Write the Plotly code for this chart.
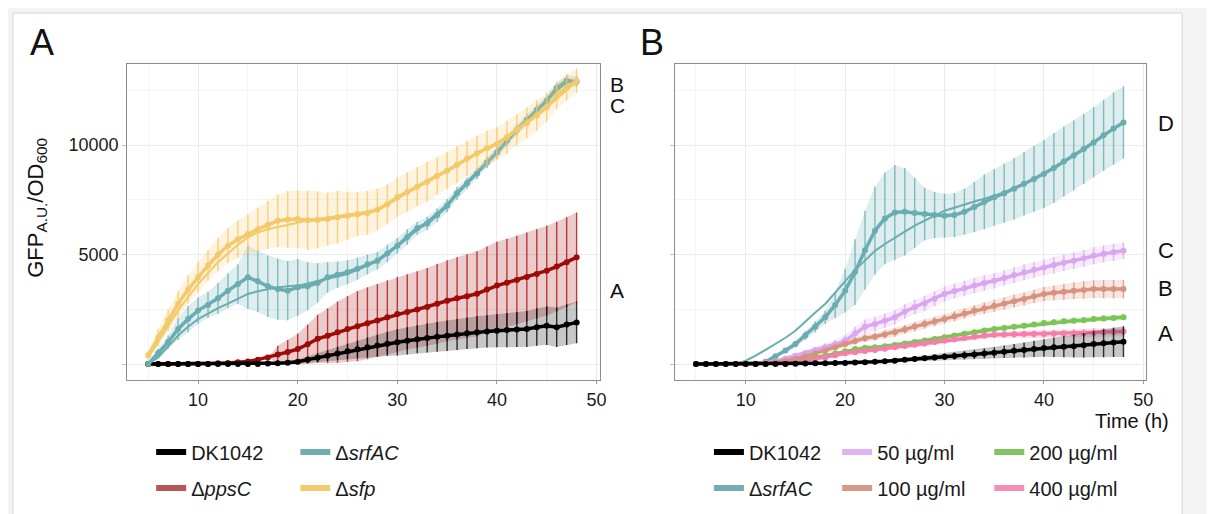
import plotly.graph_objects as go

# time points (h), read at 1 h steps
T = list(range(5, 49))

# ---- panel A: mutants ----
dk_a = [0, 0, 0, 0, 0, 0, 0, 0, 0, 0,
        0, 0, 20, 40, 60, 100, 200, 290, 380, 480,
        580, 670, 760, 840, 920, 990, 1060, 1130, 1190, 1240,
        1290, 1350, 1400, 1450, 1490, 1520, 1550, 1580, 1600, 1680,
        1750, 1680, 1800, 1900]
dk_a_err = [0, 0, 0, 0, 0, 0, 0, 0, 0, 0,
            0, 0, 0, 30, 60, 100, 150, 200, 250, 300,
            350, 400, 450, 500, 550, 600, 620, 640, 660, 680,
            700, 710, 720, 730, 740, 760, 780, 800, 820, 850,
            880, 900, 930, 950]

pps_a = [0, 0, 0, 0, 0, 0, 0, 30, 50, 80,
         120, 200, 300, 430, 550, 680, 900, 1150, 1290, 1450,
         1600, 1730, 1860, 1990, 2140, 2280, 2380, 2490, 2600, 2750,
         2890, 3000, 3100, 3210, 3400, 3580, 3710, 3840, 3970, 4110,
         4260, 4450, 4650, 4870]
pps_a_err = [0, 0, 0, 0, 0, 0, 0, 0, 0, 0,
             0, 0, 0, 400, 550, 700, 900, 1100, 1250, 1400,
             1500, 1600, 1640, 1660, 1680, 1700, 1720, 1750, 1780, 1820,
             1850, 1880, 1910, 1940, 1970, 2000, 2010, 2020, 2030, 2040,
             2050, 2050, 2050, 2050]

srf_a = [0, 500, 1000, 1600, 2050, 2440, 2700, 3000, 3350, 3650,
         3960, 3780, 3550, 3420, 3350, 3500, 3550, 3700, 3960, 4080,
         4190, 4350, 4550, 4720, 5050, 5400, 5800, 6200, 6420, 6800,
         7230, 7800, 8250, 8700, 9200, 9660, 10200, 10700, 11150, 11600,
         12020, 12600, 12940, 12900]
srf_a_err = [100, 200, 300, 500, 600, 600, 600, 700, 800, 900,
             1450, 1400, 1400, 1400, 1350, 1300, 1100, 900, 700, 600,
             550, 500, 450, 400, 400, 350, 350, 300, 300, 300,
             300, 300, 250, 250, 250, 250, 250, 250, 250, 250,
             250, 250, 250, 250]
srf_a_fit = [0, 300, 800, 1300, 1700, 2050, 2300, 2550, 2760, 2980,
             3200, 3320, 3420, 3500, 3550, 3580, 3680, 3780, 3880, 4000,
             4110, 4300, 4500, 4750, 5050, 5380, 5750, 6120, 6500, 6880,
             7280, 7750, 8220, 8700, 9180, 9660, 10150, 10650, 11120, 11580,
             12020, 12480, 12850, 12950]

sfp_a = [400, 1200, 2000, 2750, 3400, 3960, 4500, 5000, 5400, 5700,
         5940, 6150, 6350, 6540, 6600, 6620, 6560, 6580, 6620, 6700,
         6770, 6840, 6900, 7050, 7300, 7610, 7850, 8100, 8320, 8580,
         8830, 9100, 9380, 9620, 9850, 10050, 10350, 10700, 11000, 11350,
         11720, 12250, 12630, 12940]
sfp_a_err = [200, 400, 500, 600, 650, 700, 700, 750, 800, 850,
             900, 1000, 1100, 1200, 1300, 1300, 1350, 1300, 1200, 1200,
             1100, 1000, 1000, 950, 900, 900, 900, 900, 900, 850,
             850, 850, 800, 800, 800, 750, 750, 700, 700, 700,
             650, 600, 600, 550]
sfp_a_fit = [300, 1000, 1750, 2450, 3050, 3650, 4150, 4650, 5050, 5450,
             5780, 6000, 6150, 6250, 6380, 6470, 6550, 6620, 6680, 6740,
             6800, 6870, 6950, 7080, 7290, 7550, 7820, 8080, 8330, 8580,
             8830, 9090, 9350, 9600, 9850, 10100, 10400, 10700, 11020, 11350,
             11700, 12100, 12500, 12900]

# ---- panel B: srfAC + surfactin ----
dk_b = [0, 0, 0, 0, 0, 0, 0, 0, 0, 0,
        10, 20, 30, 40, 45, 50, 65, 85, 100, 125,
        150, 190, 230, 265, 300, 330, 365, 400, 435, 480,
        520, 560, 600, 640, 690, 730, 760, 790, 815, 860,
        910, 950, 985, 1020]
dk_b_err = [0, 0, 0, 0, 0, 0, 0, 0, 0, 0,
            0, 0, 0, 0, 0, 30, 40, 50, 60, 70,
            80, 90, 110, 130, 140, 150, 170, 190, 210, 230,
            250, 280, 310, 340, 370, 400, 440, 480, 520, 560,
            600, 640, 670, 700]

srf_b = [0, 0, 0, 0, 0, 0, 0, 100, 350, 620,
         910, 1300, 1700, 2130, 2700, 3350, 4200, 5200, 6090, 6650,
         6920, 6950, 6900, 6850, 6800, 6770, 6800, 6950, 7170, 7400,
         7610, 7800, 8000, 8230, 8450, 8680, 8950, 9250, 9520, 9820,
         10120, 10450, 10750, 11030]
srf_b_err = [0, 0, 0, 0, 0, 0, 0, 50, 80, 100,
             150, 200, 250, 300, 600, 1000, 1500, 1800, 2000, 2100,
             2170, 2000, 1600, 1200, 1050, 1000, 1000, 1050, 1150, 1250,
             1300, 1350, 1400, 1450, 1500, 1550, 1600, 1600, 1600, 1600,
             1600, 1620, 1650, 1650]
srf_b_fit = [0, 0, 0, 0, 0, 150, 380, 650, 910, 1200,
             1520, 1950, 2350, 2740, 3250, 3800, 4300, 4720, 5170, 5480,
             5780, 6050, 6320, 6560, 6780, 7000, 7150, 7300, 7420, 7550,
             7680, 7830, 8020, 8230, 8450, 8680, 8950, 9240, 9520, 9820,
             10120, 10450, 10750, 11030]

c50 = [0, 0, 0, 0, 0, 0, 20, 60, 130, 250,
       380, 500, 630, 760, 900, 1070, 1400, 1700, 1830, 1980,
       2130, 2400, 2600, 2760, 2980, 3200, 3330, 3460, 3580, 3700,
       3800, 3930, 4060, 4190, 4300, 4410, 4520, 4620, 4720, 4830,
       4950, 5030, 5100, 5170]
c50_err = [0, 0, 0, 0, 0, 0, 30, 50, 80, 100,
           120, 140, 160, 180, 200, 250, 300, 330, 330, 330,
           330, 330, 330, 340, 340, 340, 340, 350, 350, 350,
           350, 350, 360, 360, 360, 360, 370, 370, 370, 380,
           380, 380, 380, 380]

c100 = [0, 0, 0, 0, 0, 0, 0, 30, 80, 150,
        230, 350, 480, 610, 760, 910, 1050, 1180, 1250, 1350,
        1450, 1580, 1710, 1830, 1940, 2050, 2180, 2310, 2440, 2550,
        2660, 2760, 2870, 2970, 3090, 3200, 3250, 3300, 3350, 3380,
        3420, 3420, 3420, 3420]
c100_err = [0, 0, 0, 0, 0, 0, 0, 30, 40, 50,
            60, 80, 100, 120, 140, 150, 160, 170, 180, 190,
            200, 200, 210, 210, 220, 220, 230, 240, 250, 260,
            270, 280, 290, 300, 300, 320, 340, 360, 380, 400,
            400, 420, 420, 420]

c200 = [0, 0, 0, 0, 0, 0, 0, 0, 40, 90,
        150, 230, 300, 380, 480, 580, 680, 740, 760, 810,
        870, 940, 1010, 1070, 1140, 1220, 1300, 1380, 1450, 1530,
        1600, 1650, 1700, 1750, 1810, 1870, 1910, 1950, 1980, 2000,
        2050, 2080, 2100, 2130]
c200_err = [0, 0, 0, 0, 0, 0, 0, 0, 20, 30,
            40, 50, 60, 60, 70, 70, 80, 80, 80, 90,
            90, 90, 100, 100, 100, 100, 110, 110, 110, 110,
            120, 120, 120, 120, 120, 130, 130, 130, 130, 130,
            130, 130, 130, 130]

c400 = [0, 0, 0, 0, 0, 0, 0, 0, 40, 80,
        120, 180, 240, 300, 400, 490, 540, 590, 640, 700,
        760, 820, 880, 940, 1010, 1070, 1130, 1190, 1250, 1300,
        1340, 1350, 1360, 1370, 1370, 1370, 1380, 1390, 1400, 1410,
        1430, 1450, 1460, 1480]
c400_err = [0, 0, 0, 0, 0, 0, 0, 0, 20, 30,
            40, 50, 60, 70, 80, 90, 100, 100, 110, 110,
            120, 120, 120, 130, 130, 130, 140, 140, 140, 150,
            150, 150, 160, 160, 170, 170, 180, 180, 190, 190,
            200, 200, 200, 200]

# the page body adds an 8 px margin, so the figure is drawn 8 px smaller
OFF = 8
W, H = 1215 - OFF, 514 - OFF
FONT = "Arial, Liberation Sans, sans-serif"

def px(x):
    return (x - OFF) / W

def py(y):
    return 1 - (y - OFF) / H

def band(fig, y, err, rgb, xa, ya, alpha=0.22):
    # light shade between mean-sd and mean+sd, mimics the dense error bars
    hi = [v + e for v, e in zip(y, err)]
    lo = [v - e for v, e in zip(y, err)]
    fig.add_trace(go.Scatter(x=T, y=hi, mode="lines", line=dict(width=0),
                             xaxis=xa, yaxis=ya, showlegend=False, hoverinfo="skip"))
    fig.add_trace(go.Scatter(x=T, y=lo, mode="lines", line=dict(width=0),
                             fill="tonexty", fillcolor="rgba(%s,%s)" % (rgb, alpha),
                             xaxis=xa, yaxis=ya, showlegend=False, hoverinfo="skip"))

def series(fig, y, err, color, rgb, xa, ya, lw=3.5, ms=6):
    band(fig, y, err, rgb, xa, ya)
    fig.add_trace(go.Scatter(x=T, y=y, mode="lines+markers", xaxis=xa, yaxis=ya,
                             line=dict(color=color, width=lw),
                             marker=dict(color=color, size=ms),
                             error_y=dict(type="data", array=err, visible=True,
                                          thickness=1.4, width=0,
                                          color="rgba(%s,0.8)" % rgb),
                             showlegend=False, hoverinfo="skip"))

def fit(fig, y, color, xa, ya):
    fig.add_trace(go.Scatter(x=T, y=y, mode="lines", xaxis=xa, yaxis=ya,
                             line=dict(color=color, width=2),
                             showlegend=False, hoverinfo="skip"))

fig = go.Figure()

# panel A
series(fig, pps_a, pps_a_err, "#9c0a0a", "170,20,20", "x", "y")
series(fig, dk_a, dk_a_err, "#000000", "0,0,0", "x", "y")
series(fig, srf_a, srf_a_err, "#6aadb1", "106,173,177", "x", "y")
fit(fig, srf_a_fit, "#6aadb1", "x", "y")
series(fig, sfp_a, sfp_a_err, "#f4c96a", "244,201,106", "x", "y")
fit(fig, sfp_a_fit, "#f4c96a", "x", "y")

# panel B
series(fig, srf_b, srf_b_err, "#6aadb1", "106,173,177", "x2", "y2")
fit(fig, srf_b_fit, "#6aadb1", "x2", "y2")
series(fig, c50, c50_err, "#d9a6f0", "217,166,240", "x2", "y2")
series(fig, c100, c100_err, "#d8927e", "216,146,126", "x2", "y2")
series(fig, c200, c200_err, "#7dc456", "125,196,86", "x2", "y2")
series(fig, c400, c400_err, "#f57eaa", "245,126,170", "x2", "y2")
series(fig, dk_b, dk_b_err, "#000000", "0,0,0", "x2", "y2")

# legends: one small legend per entry, placed like the original grid
legend_items = [
    ("DK1042", "#000000", 157, 452),
    ("Δ<i>srfAC</i>", "#72aeb1", 302, 452),
    ("Δ<i>ppsC</i>", "#b85656", 157, 488),
    ("Δ<i>sfp</i>", "#f3ca70", 302, 488),
    ("DK1042", "#000000", 718, 452),
    ("50 µg/ml", "#ddb3f2", 847, 452),
    ("200 µg/ml", "#82c35e", 1000, 452),
    ("Δ<i>srfAC</i>", "#75aeb1", 718, 488),
    ("100 µg/ml", "#d59a87", 847, 488),
    ("400 µg/ml", "#f68db4", 1000, 488),
]
legends = {}
for i, (name, color, lx, ly) in enumerate(legend_items):
    key = "legend" if i == 0 else "legend%d" % (i + 1)
    fig.add_trace(go.Scatter(x=[None], y=[None], mode="lines", name=name,
                             line=dict(color=color, width=6),
                             legend=key, showlegend=True, xaxis="x", yaxis="y"))
    legends[key] = dict(x=px(lx - 5), y=py(ly), xanchor="left", yanchor="middle",
                        bgcolor="rgba(0,0,0,0)", borderwidth=0,
                        font=dict(family=FONT, size=20, color="#1a1a1a"),
                        itemwidth=30)

axis_common = dict(range=[2.9, 50.3], tickvals=[10, 20, 30, 40, 50],
                   showgrid=True, gridcolor="#ebebeb", gridwidth=1,
                   minor=dict(tickvals=[5, 15, 25, 35, 45], showgrid=True,
                              gridcolor="#f4f4f4", gridwidth=1),
                   showline=True, linecolor="#8c8c8c", linewidth=1.3, mirror=True,
                   ticks="outside", ticklen=3, tickcolor="#9a9a9a",
                   tickfont=dict(family=FONT, size=18, color="#1a1a1a"),
                   zeroline=False)
yaxis_common = dict(range=[-730, 13700], tickvals=[0, 5000, 10000],
                    ticktext=["", "5000", "10000"],
                    showgrid=True, gridcolor="#ebebeb", gridwidth=1,
                    minor=dict(tickvals=[2500, 7500, 12500], showgrid=True,
                               gridcolor="#f4f4f4", gridwidth=1),
                    showline=True, linecolor="#8c8c8c", linewidth=1.3, mirror=True,
                    ticks="outside", ticklen=4, tickcolor="#a9c4dc",
                    tickfont=dict(family=FONT, size=18, color="#1a1a1a"),
                    zeroline=False)

fig.update_layout(
    width=W, height=H,
    margin=dict(l=0, r=0, t=0, b=0),
    paper_bgcolor="#f4f4f4", plot_bgcolor="white",
    xaxis=dict(domain=[px(128), px(603)], anchor="y", **axis_common),
    yaxis=dict(domain=[py(380), py(64)], anchor="x", **yaxis_common),
    xaxis2=dict(domain=[px(679), px(1153)], anchor="y2", **axis_common),
    yaxis2=dict(domain=[py(380), py(64)], anchor="x2", showticklabels=False,
                **yaxis_common),
    shapes=[dict(type="rect", xref="paper", yref="paper", layer="below",
                 x0=px(13), x1=px(1189), y0=py(520), y1=py(13),
                 fillcolor="white", line=dict(color="#d6d6d6", width=1))],
    **legends,
)

ann = [
    ("A", 28, 42, 36, "left"),
    ("B", 642, 42, 36, "left"),
    ("B", 611, 84, 21, "left"),
    ("C", 611, 105, 21, "left"),
    ("A", 611, 290, 21, "left"),
    ("D", 1163, 123, 22, "left"),
    ("C", 1163, 250, 22, "left"),
    ("B", 1163, 288, 22, "left"),
    ("A", 1163, 333, 22, "left"),
    ("Time (h)", 1178, 421, 20, "right"),
]
for text, ax, ay, size, anchor in ann:
    fig.add_annotation(text=text, xref="paper", yref="paper", x=px(ax), y=py(ay),
                       xanchor=anchor, yanchor="middle", showarrow=False,
                       font=dict(family=FONT, size=size, color="#111111"))

fig.add_annotation(text="GFP<sub>A.U.</sub>/OD<sub>600</sub>", xref="paper", yref="paper",
                   x=px(37), y=py(208), textangle=-90, showarrow=False,
                   xanchor="center", yanchor="middle",
                   font=dict(family=FONT, size=22, color="#111111"))

fig.write_html("out.html")
